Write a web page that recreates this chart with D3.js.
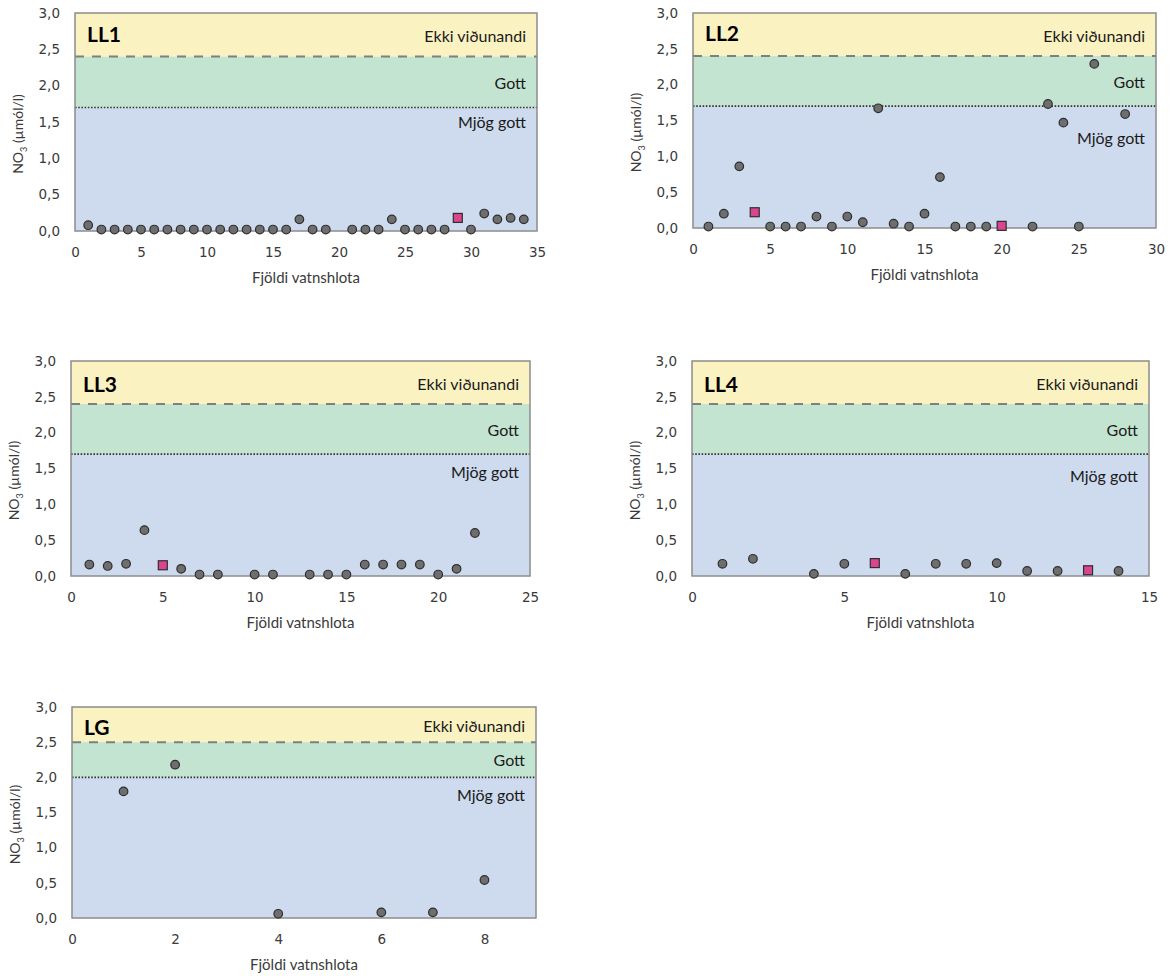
<!DOCTYPE html>
<html>
<head>
<meta charset="utf-8">
<script src="https://cdn.jsdelivr.net/npm/d3@7"></script>
<style>
  html, body { margin: 0; padding: 0; background: #ffffff; }
  svg { display: block; }
</style>
</head>
<body>
<svg id="chart" width="1174" height="976"></svg>
<script>
// ---------------- DATA ----------------
const panelNames = ["LL1", "LL2", "LL3", "LL4", "LG"];
const xMaxValues = [35, 30, 25, 15, 9];
const xTickSteps = [5, 5, 5, 5, 2];
const yTickValues = [0, 0.5, 1.0, 1.5, 2.0, 2.5, 3.0];
const veryGoodLimits = [1.7, 1.7, 1.7, 1.7, 2.0];   // Mjög gott / Gott boundary
const goodLimits = [2.4, 2.4, 2.4, 2.4, 2.5];       // Gott / Ekki viðunandi boundary
const classLabels = ["Ekki viðunandi", "Gott", "Mjög gott"];
const xTitle = "Fjöldi vatnshlota";

const ll1X = [1,2,3,4,5,6,7,8,9,10,11,12,13,14,15,16,17,18,19,21,22,23,24,25,26,27,28,30,31,32,33,34];
const ll1Y = [0.08,0.02,0.02,0.02,0.02,0.02,0.02,0.02,0.02,0.02,0.02,0.02,0.02,0.02,0.02,0.02,0.16,0.02,0.02,0.02,0.02,0.02,0.16,0.02,0.02,0.02,0.02,0.02,0.24,0.16,0.18,0.16];
const ll1SqX = [29];
const ll1SqY = [0.18];

const ll2X = [1,2,3,5,6,7,8,9,10,11,12,13,14,15,16,17,18,19,22,23,24,25,26,28];
const ll2Y = [0.02,0.20,0.86,0.02,0.02,0.02,0.16,0.02,0.16,0.08,1.67,0.06,0.02,0.20,0.71,0.02,0.02,0.02,0.02,1.73,1.47,0.02,2.29,1.59];
const ll2SqX = [4, 20];
const ll2SqY = [0.22, 0.03];

const ll3X = [1,2,3,4,6,7,8,10,11,13,14,15,16,17,18,19,20,21,22];
const ll3Y = [0.16,0.14,0.17,0.64,0.10,0.02,0.02,0.02,0.02,0.02,0.02,0.02,0.16,0.16,0.16,0.16,0.02,0.10,0.60];
const ll3SqX = [5];
const ll3SqY = [0.15];

const ll4X = [1,2,4,5,7,8,9,10,11,12,14];
const ll4Y = [0.17,0.24,0.03,0.17,0.03,0.17,0.17,0.18,0.07,0.07,0.07];
const ll4SqX = [6, 13];
const ll4SqY = [0.18, 0.08];

const lgX = [1,2,4,6,7,8];
const lgY = [1.80,2.18,0.06,0.08,0.08,0.54];
const lgSqX = [];
const lgSqY = [];

const circleSeries = [[ll1X, ll1Y], [ll2X, ll2Y], [ll3X, ll3Y], [ll4X, ll4Y], [lgX, lgY]];
const squareSeries = [[ll1SqX, ll1SqY], [ll2SqX, ll2SqY], [ll3SqX, ll3SqY], [ll4SqX, ll4SqY], [lgSqX, lgSqY]];

// ---------------- LAYOUT / STYLE ----------------
const frames = [
  {x0: 75,  y0: 13,  x1: 537,  y1: 231},
  {x0: 693, y0: 13,  x1: 1156, y1: 228},
  {x0: 71,  y0: 361, x1: 530,  y1: 576},
  {x0: 692, y0: 361, x1: 1149, y1: 576},
  {x0: 72,  y0: 707, x1: 536,  y1: 918}
];
const titleBaseOffsets = [29, 28, 31, 31, 28];
const veryGoodLabelOffsets = [15, 32, 18, 22, 18];

const colYellow = "#fbf2c2";
const colGreen = "#c4e4d2";
const colBlue = "#cedbef";
const textCol = "#3a3a3a";
const labelFont = "Lato, 'Open Sans', sans-serif";
const tickFont = "'DejaVu Sans', Verdana, sans-serif";

const svg = d3.select("#chart");
svg.append("rect").attr("width", 1174).attr("height", 976).attr("fill", "#fff");

const fmt = d => d3.format(".1f")(d).replace(".", ",");

panelNames.forEach((name, i) => {
  const f = frames[i];
  const x = d3.scaleLinear().domain([0, xMaxValues[i]]).range([f.x0, f.x1]);
  const y = d3.scaleLinear().domain([0, 3]).range([f.y1, f.y0]);
  const g = svg.append("g");

  // bands
  g.append("rect").attr("x", f.x0).attr("width", f.x1 - f.x0)
    .attr("y", y(3)).attr("height", y(goodLimits[i]) - y(3)).attr("fill", colYellow);
  g.append("rect").attr("x", f.x0).attr("width", f.x1 - f.x0)
    .attr("y", y(goodLimits[i])).attr("height", y(veryGoodLimits[i]) - y(goodLimits[i])).attr("fill", colGreen);
  g.append("rect").attr("x", f.x0).attr("width", f.x1 - f.x0)
    .attr("y", y(veryGoodLimits[i])).attr("height", y(0) - y(veryGoodLimits[i])).attr("fill", colBlue);

  // boundary lines
  g.append("line").attr("x1", f.x0).attr("x2", f.x1)
    .attr("y1", y(goodLimits[i])).attr("y2", y(goodLimits[i]))
    .attr("stroke", "#7f7f7f").attr("stroke-width", 2).attr("stroke-dasharray", "9,8");
  g.append("line").attr("x1", f.x0).attr("x2", f.x1)
    .attr("y1", y(veryGoodLimits[i])).attr("y2", y(veryGoodLimits[i]))
    .attr("stroke", "#333").attr("stroke-width", 1.6).attr("stroke-dasharray", "1.6,1.6");

  // frame
  g.append("rect").attr("x", f.x0).attr("y", f.y0)
    .attr("width", f.x1 - f.x0).attr("height", f.y1 - f.y0)
    .attr("fill", "none").attr("stroke", "#8c8c8c").attr("stroke-width", 1.5);

  // axes
  const yAxis = d3.axisLeft(y).tickValues(yTickValues).tickSize(0).tickPadding(15).tickFormat(fmt);
  const ya = g.append("g").attr("transform", `translate(${f.x0},0)`).call(yAxis);
  ya.select(".domain").remove();
  ya.selectAll("text").attr("font-family", tickFont).attr("font-size", 13.5).attr("fill", textCol);

  const xt = d3.range(0, xMaxValues[i] + 0.001, xTickSteps[i]);
  const xAxis = d3.axisBottom(x).tickValues(xt).tickSize(0).tickPadding(16).tickFormat(d3.format("d"));
  const xa = g.append("g").attr("transform", `translate(0,${f.y1})`).call(xAxis);
  xa.select(".domain").remove();
  xa.selectAll("text").attr("font-family", tickFont).attr("font-size", 13.5).attr("fill", textCol);

  // axis titles
  g.append("text").attr("x", (f.x0 + f.x1) / 2).attr("y", f.y1 + 52)
    .attr("text-anchor", "middle").attr("font-family", labelFont).attr("font-size", 15)
    .attr("fill", textCol).text(xTitle);
  const yt = g.append("text")
    .attr("transform", `translate(${f.x0 - 52},${(f.y0 + f.y1) / 2 + 12}) rotate(-90)`)
    .attr("text-anchor", "middle").attr("font-family", labelFont).attr("font-size", 14)
    .attr("fill", textCol);
  yt.append("tspan").text("NO");
  yt.append("tspan").attr("font-size", 9).attr("dy", 4).text("3");
  yt.append("tspan").attr("dy", -4).text(" (µmól/l)");

  // class labels
  const rx = f.x1 - 11;
  g.append("text").attr("x", rx).attr("y", (y(3) + y(goodLimits[i])) / 2 + 2)
    .attr("dy", "0.35em").attr("text-anchor", "end").attr("font-family", labelFont)
    .attr("font-size", 16).attr("fill", "#1a1a1a").text(classLabels[0]);
  g.append("text").attr("x", rx).attr("y", (y(goodLimits[i]) + y(veryGoodLimits[i])) / 2 + 1)
    .attr("dy", "0.35em").attr("text-anchor", "end").attr("font-family", labelFont)
    .attr("font-size", 16).attr("fill", "#1a1a1a").text(classLabels[1]);
  g.append("text").attr("x", rx).attr("y", y(veryGoodLimits[i]) + veryGoodLabelOffsets[i])
    .attr("dy", "0.35em").attr("text-anchor", "end").attr("font-family", labelFont)
    .attr("font-size", 16).attr("fill", "#1a1a1a").text(classLabels[2]);

  // panel title
  g.append("text").attr("x", f.x0 + 12).attr("y", f.y0 + titleBaseOffsets[i])
    .attr("font-family", labelFont).attr("font-weight", "bold").attr("font-size", 21)
    .attr("fill", "#000").text(name);

  // points
  const [cx, cy] = circleSeries[i];
  g.selectAll("circle.pt").data(cx.map((v, k) => [v, cy[k]])).enter()
    .append("circle").attr("class", "pt")
    .attr("cx", d => x(d[0])).attr("cy", d => y(d[1])).attr("r", 4.3)
    .attr("fill", "#6e6e6e").attr("stroke", "#2e2e2e").attr("stroke-width", 1.2);
  const [sx, sy] = squareSeries[i];
  const s = 9;
  g.selectAll("rect.sq").data(sx.map((v, k) => [v, sy[k]])).enter()
    .append("rect").attr("class", "sq")
    .attr("x", d => x(d[0]) - s / 2).attr("y", d => y(d[1]) - s / 2)
    .attr("width", s).attr("height", s)
    .attr("fill", "#d9458f").attr("stroke", "#2e2e2e").attr("stroke-width", 1.2);
});
</script>
</body>
</html>
